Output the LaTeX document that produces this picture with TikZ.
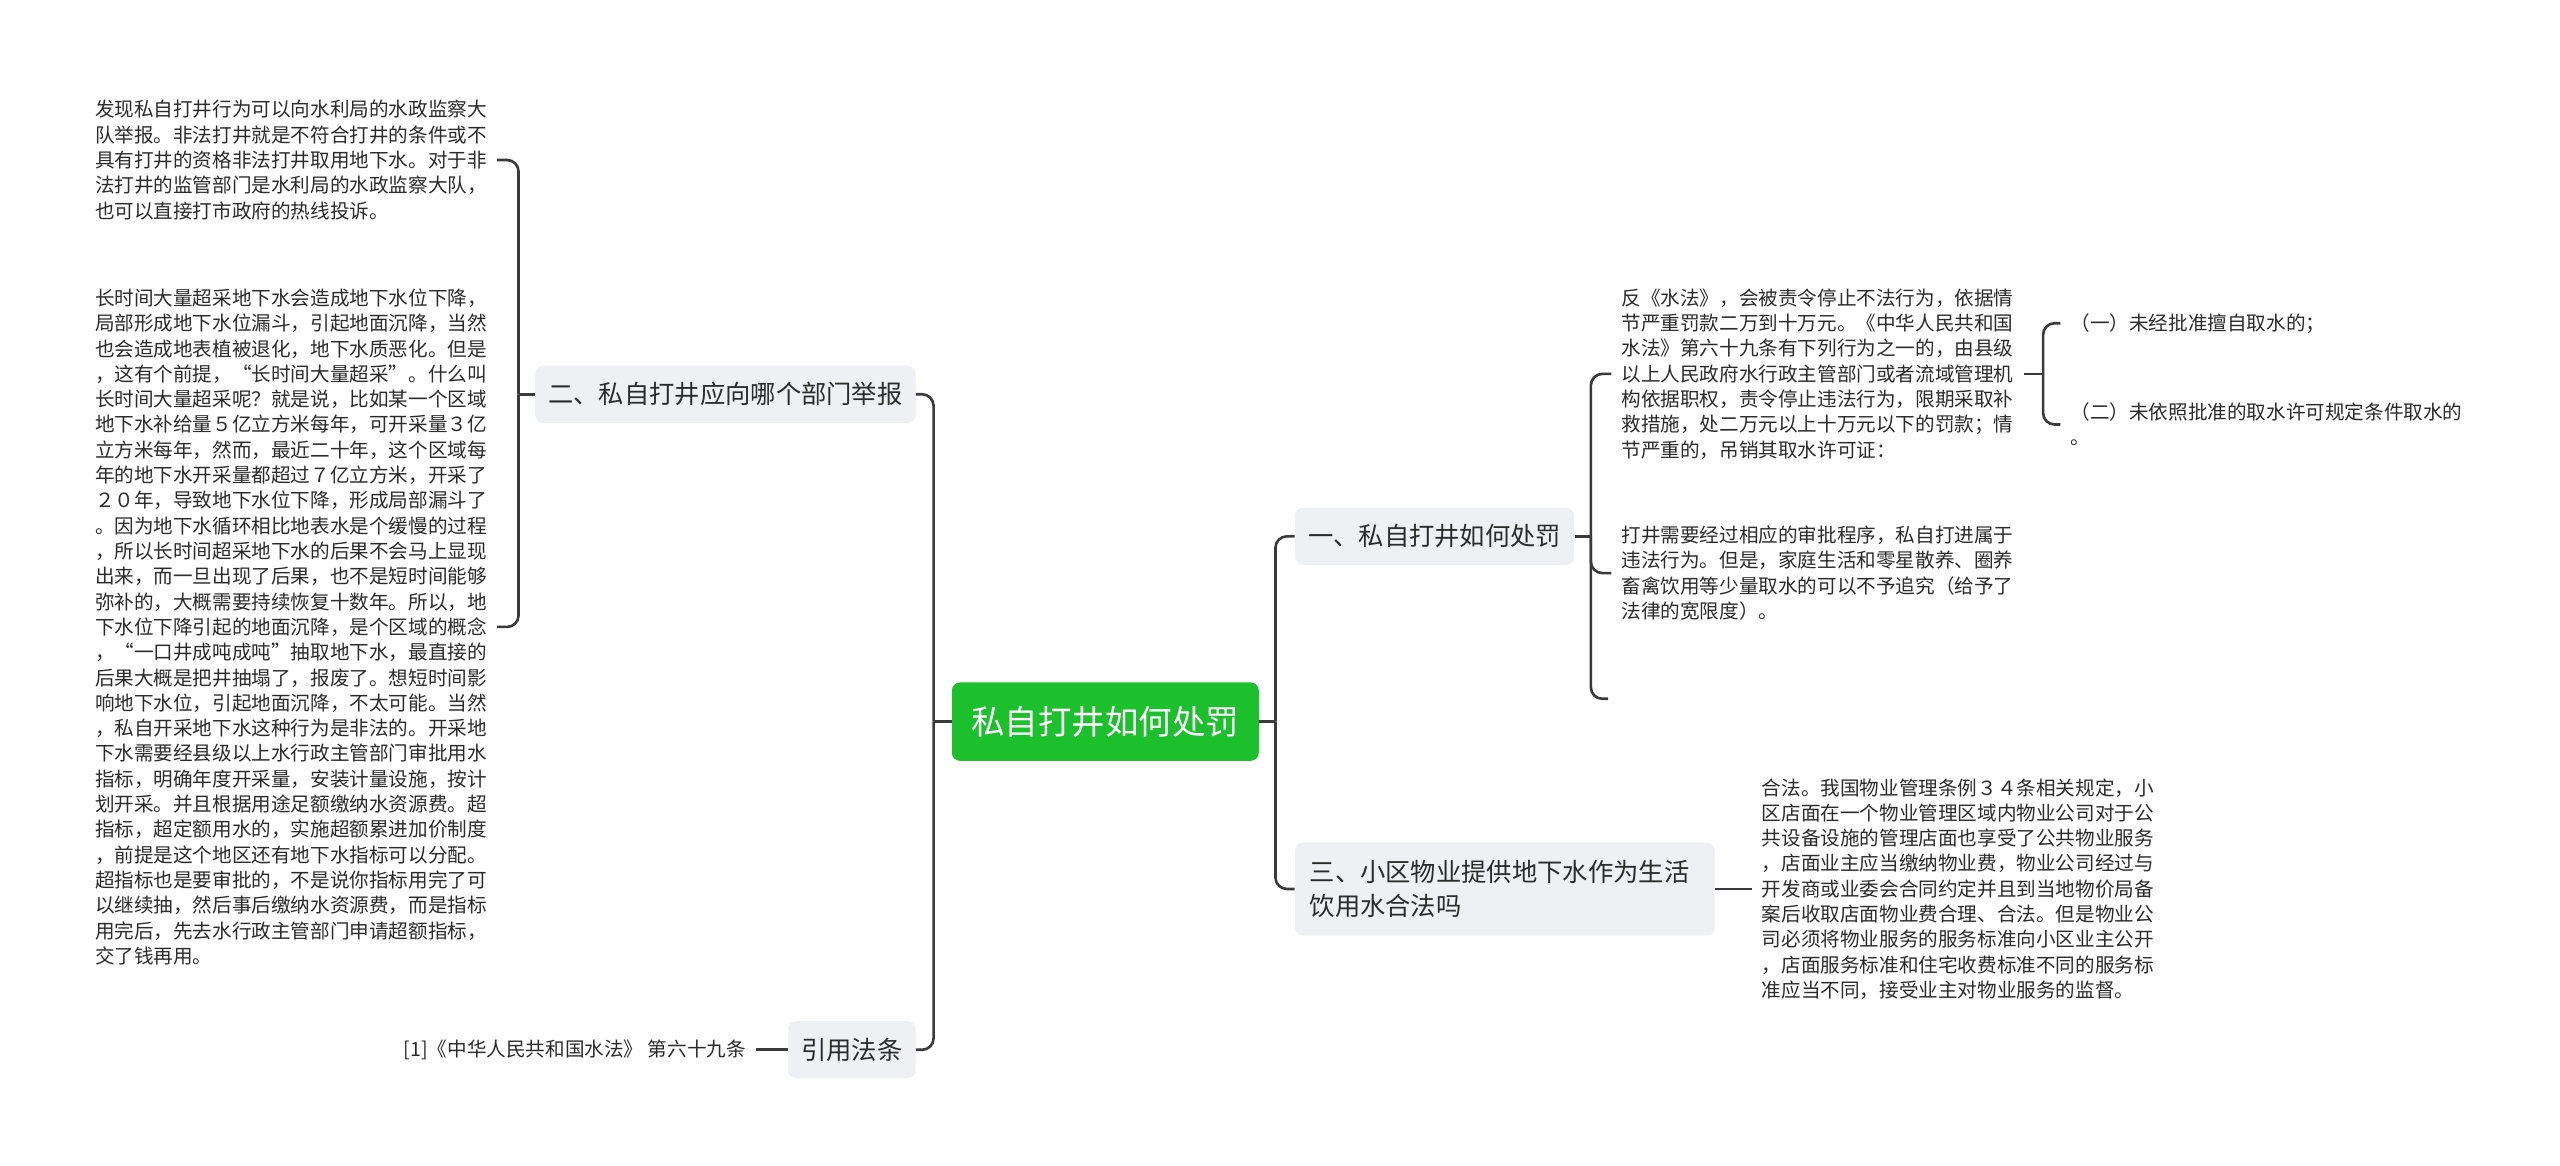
\documentclass[tikz,border=0pt]{standalone}
\usepackage{fontspec}
\setmainfont{Noto Sans CJK SC}
\usetikzlibrary{calc}
\definecolor{linec}{HTML}{3A3A3A}
\definecolor{boxc}{HTML}{EEF0F3}
\definecolor{rootc}{HTML}{1CBF2C}
\definecolor{txt}{HTML}{2B2B2B}
\tikzset{
  conn/.style={draw=linec, line width=1.6pt, rounded corners=7pt},
  topic/.style={fill=boxc, rounded corners=5pt, text=txt, font=\fontsize{15.5}{21}\selectfont, inner xsep=8pt, inner ysep=0pt, minimum height=35pt, align=left},
  leaf/.style={text=txt, font=\fontsize{12}{15.5}\selectfont, align=left, inner xsep=6pt, inner ysep=3pt},
  rootbox/.style={fill=rootc, rounded corners=5pt, text=white, font=\fontsize{20.5}{24}\selectfont, minimum width=188pt, minimum height=48pt}
}
\begin{document}
\begin{tikzpicture}[x=1pt,y=-1pt]
\useasboundingbox (0,0) rectangle (1568,714);
\fill[white] (0,0) rectangle (1568,714);

% root
\node[rootbox] (root) at (677,442) {私自打井如何处罚};

% main topics
\node[topic, anchor=east] (n2) at (561,241.5) {二、私自打井应向哪个部门举报};
\node[topic, anchor=east] (n4) at (561,643) {引用法条};
\node[topic, anchor=west] (n1) at (793,328.5) {一、私自打井如何处罚};
\node[topic, anchor=west, text width=239pt, inner xsep=9pt, minimum height=57pt] (n3) at (793,544.5) {三、小区物业提供地下水作为生活\\饮用水合法吗};

% left leaves
\node[leaf, anchor=west] (t21) at (52,98) {发现私自打井行为可以向水利局的水政监察大\\队举报。非法打井就是不符合打井的条件或不\\具有打井的资格非法打井取用地下水。对于非\\法打井的监管部门是水利局的水政监察大队，\\也可以直接打市政府的热线投诉。};

\node[leaf, anchor=west] (t22) at (52,384) {长时间大量超采地下水会造成地下水位下降，\\局部形成地下水位漏斗，引起地面沉降，当然\\也会造成地表植被退化，地下水质恶化。但是\\，这有个前提，“长时间大量超采”。什么叫\\长时间大量超采呢？就是说，比如某一个区域\\地下水补给量５亿立方米每年，可开采量３亿\\立方米每年，然而，最近二十年，这个区域每\\年的地下水开采量都超过７亿立方米，开采了\\２０年，导致地下水位下降，形成局部漏斗了\\。因为地下水循环相比地表水是个缓慢的过程\\，所以长时间超采地下水的后果不会马上显现\\出来，而一旦出现了后果，也不是短时间能够\\弥补的，大概需要持续恢复十数年。所以，地\\下水位下降引起的地面沉降，是个区域的概念\\，“一口井成吨成吨”抽取地下水，最直接的\\后果大概是把井抽塌了，报废了。想短时间影\\响地下水位，引起地面沉降，不太可能。当然\\，私自开采地下水这种行为是非法的。开采地\\下水需要经县级以上水行政主管部门审批用水\\指标，明确年度开采量，安装计量设施，按计\\划开采。并且根据用途足额缴纳水资源费。超\\指标，超定额用水的，实施超额累进加价制度\\，前提是这个地区还有地下水指标可以分配。\\超指标也是要审批的，不是说你指标用完了可\\以继续抽，然后事后缴纳水资源费，而是指标\\用完后，先去水行政主管部门申请超额指标，\\交了钱再用。};

\node[leaf, anchor=east] (t31) at (463,643) {[1]《中华人民共和国水法》 第六十九条};

% right leaves
\node[leaf, anchor=west] (t11) at (987,229) {反《水法》，会被责令停止不法行为，依据情\\节严重罚款二万到十万元。《中华人民共和国\\水法》第六十九条有下列行为之一的，由县级\\以上人民政府水行政主管部门或者流域管理机\\构依据职权，责令停止违法行为，限期采取补\\救措施，处二万元以上十万元以下的罚款；情\\节严重的，吊销其取水许可证：};
\node[leaf, anchor=west] (t12) at (987,351) {打井需要经过相应的审批程序，私自打进属于\\违法行为。但是，家庭生活和零星散养、圈养\\畜禽饮用等少量取水的可以不予追究（给予了\\法律的宽限度）。};
\coordinate (t13) at (985,428);

\node[leaf, anchor=west] (i1) at (1262,198) {（一）未经批准擅自取水的；};
\node[leaf, anchor=west] (i2) at (1262,260) {（二）未依照批准的取水许可规定条件取水的\\。};

\node[leaf, anchor=west] (t41) at (1073,544.5) {合法。我国物业管理条例３４条相关规定，小\\区店面在一个物业管理区域内物业公司对于公\\共设备设施的管理店面也享受了公共物业服务\\，店面业主应当缴纳物业费，物业公司经过与\\开发商或业委会合同约定并且到当地物价局备\\案后收取店面物业费合理、合法。但是物业公\\司必须将物业服务的服务标准向小区业主公开\\，店面服务标准和住宅收费标准不同的服务标\\准应当不同，接受业主对物业服务的监督。};

% junctions
\coordinate (jL) at ($(root.west)+(-11,0)$);
\coordinate (jR) at ($(root.east)+(10,0)$);
\coordinate (jA) at ($(n2.west)+(-10,0)$);
\coordinate (jB) at ($(n1.east)+(10,0)$);
\coordinate (jC) at ($(t11.east)+(12,0)$);

% connectors
\draw[conn] (root.west) -- (jL);
\draw[conn] (jL) |- (n2.east);
\draw[conn] (jL) |- (n4.east);
\draw[conn] (root.east) -- (jR);
\draw[conn] (jR) |- (n1.west);
\draw[conn] (jR) |- (n3.west);

\draw[conn] (n2.west) -- (jA);
\draw[conn] (jA) |- (t21.east);
\draw[conn] (jA) |- (t22.east);

\draw[conn] (n4.west) -- (t31.east);

\draw[conn] (n1.east) -- (jB);
\draw[conn] (jB) |- (t11.west);
\draw[conn] (jB) |- (t12.west);
\draw[conn] (jB) |- (t13);

\draw[conn] (t11.east) -- (jC);
\draw[conn] (jC) |- (i1.west);
\draw[conn] (jC) |- (i2.west);

\draw[conn] (n3.east) -- (t41.west);
\end{tikzpicture}
\end{document}
